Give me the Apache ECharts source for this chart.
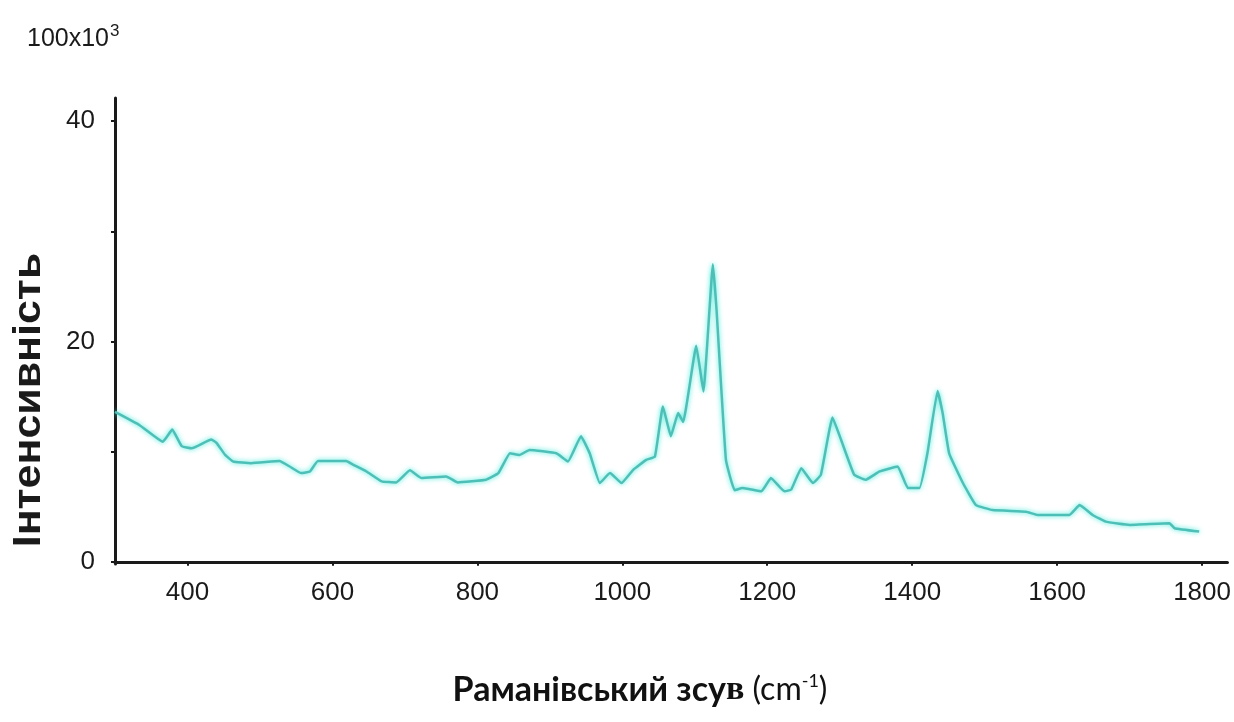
<!DOCTYPE html>
<html>
<head>
<meta charset="utf-8">
<script src="https://cdn.jsdelivr.net/npm/echarts@6/dist/echarts.min.js"></script>
<style>
  html, body { margin: 0; padding: 0; background: #ffffff; }
  #chart { width: 1234px; height: 722px; }
</style>
</head>
<body>
<div id="chart"></div>
<script>
// Raman shift, cm^-1
const ramanShift = [
  300, 334, 366, 379, 392, 406, 433, 440, 452, 463, 488, 527, 541, 557, 569, 580,
  619, 629, 647, 668, 688, 707, 723, 757, 773, 812, 829, 845, 858, 872, 909, 925,
  943, 955, 969, 983, 999, 1015, 1033, 1045, 1056, 1067, 1077, 1084, 1102, 1112,
  1125, 1130, 1143, 1155, 1166, 1192, 1205, 1217, 1224, 1233, 1247, 1263, 1274,
  1290, 1302, 1320, 1336, 1355, 1380, 1394, 1410, 1421, 1435, 1442, 1451, 1470,
  1488, 1511, 1557, 1573, 1617, 1631, 1649, 1667, 1700, 1755, 1762, 1796
];
// Intensity, units of 10^3 counts
const intensity = [
  13.6, 12.4, 10.9, 12.0, 10.5, 10.3, 11.1, 10.8, 9.7, 9.1, 8.95, 9.15, 8.65, 8.05, 8.2, 9.15,
  9.15, 8.8, 8.2, 7.3, 7.2, 8.3, 7.6, 7.75, 7.2, 7.45, 8.05, 9.85, 9.7, 10.15, 9.85, 9.1,
  11.4, 9.85, 7.15, 8.05, 7.15, 8.35, 9.25, 9.55, 14.1, 11.4, 13.5, 12.7, 19.6, 15.45,
  27.0, 22.9, 9.25, 6.5, 6.7, 6.4, 7.6, 6.8, 6.4, 6.55, 8.5, 7.15, 7.9,
  13.1, 11.05, 7.9, 7.45, 8.2, 8.65, 6.7, 6.7, 9.85, 15.5, 13.5, 9.85, 7.15,
  5.15, 4.7, 4.55, 4.25, 4.25, 5.15, 4.25, 3.65, 3.35, 3.5, 3.05, 2.75
];

const xTickValues = [400, 600, 800, 1000, 1200, 1400, 1600, 1800];
const yLabelValues = [0, 20, 40];
const yTickValues = [0, 10, 20, 30, 40];

const yTitle = 'Інтенсивність';
const xTitleMain = 'Раманівський зсу';
const xTitleLast = 'в';
const scaleNote = '100x10';

const labelFont = "'Liberation Sans', Arial, sans-serif";

const chart = echarts.init(document.getElementById('chart'), null, { renderer: 'canvas' });

chart.setOption({
  backgroundColor: '#ffffff',
  animation: false,
  grid: { left: 115, right: 6, top: 98, bottom: 158, containLabel: false },
  xAxis: {
    type: 'value',
    min: 300,
    max: 1835,
    splitLine: { show: false },
    axisLine: { lineStyle: { color: '#1a1a1a', width: 3 } },
    axisTick: { customValues: xTickValues, length: 4, lineStyle: { color: '#1a1a1a', width: 2 } },
    axisLabel: {
      customValues: xTickValues,
      formatter: v => String(v),
      margin: 16,
      color: '#1a1a1a',
      fontFamily: labelFont,
      fontSize: 26
    }
  },
  yAxis: {
    type: 'value',
    min: -0.2,
    max: 42.1,
    splitLine: { show: false },
    axisLine: { show: true, lineStyle: { color: '#1a1a1a', width: 3 } },
    axisTick: { show: true, customValues: yTickValues, length: 4, lineStyle: { color: '#1a1a1a', width: 2 } },
    axisLabel: {
      customValues: yLabelValues,
      formatter: v => String(v),
      margin: 20,
      color: '#1a1a1a',
      fontFamily: labelFont,
      fontSize: 26
    }
  },
  series: [{
    type: 'line',
    data: ramanShift.map((x, i) => [x, intensity[i]]),
    showSymbol: false,
    smooth: 0.1,
    lineStyle: {
      color: '#4dbfb6',
      width: 2.5,
      shadowColor: 'rgba(60, 232, 216, 1)',
      shadowBlur: 5
    }
  }],
  graphic: [
    {
      type: 'text',
      left: 27,
      top: 23,
      style: {
        text: '{b|' + scaleNote + '}{s|3}',
        rich: {
          b: { fontFamily: labelFont, fontSize: 25, fill: '#1a1a1a', verticalAlign: 'bottom' },
          s: { fontFamily: labelFont, fontSize: 17, fill: '#1a1a1a', verticalAlign: 'top', padding: [0, 0, 12, 1] }
        }
      }
    },
    {
      type: 'text',
      x: 30,
      y: 400,
      rotation: Math.PI / 2,
      scaleX: 1.13,
      style: {
        text: yTitle,
        fontFamily: labelFont,
        fontWeight: 'bold',
        fontSize: 38,
        fill: '#1a1a1a',
        align: 'center',
        verticalAlign: 'middle'
      }
    },
    {
      type: 'text',
      x: 640,
      y: 690,
      style: {
        text: '{m|' + xTitleMain + '}{v|' + xTitleLast + '}{r| (cm}{sup|-1}{r|)}',
        align: 'center',
        verticalAlign: 'middle',
        rich: {
          m: { fontFamily: "Lato, 'Open Sans', sans-serif", fontWeight: 'bold', fontSize: 34, fill: '#111111' },
          v: { fontFamily: "'Liberation Serif', 'DejaVu Serif', serif", fontWeight: 'bold', fontSize: 34, fill: '#111111' },
          r: { fontFamily: "Lato, 'Open Sans', sans-serif", fontSize: 32, fill: '#111111' },
          sup: { fontFamily: "Lato, 'Open Sans', sans-serif", fontSize: 18, fill: '#111111', padding: [0, 0, 18, 0] }
        }
      }
    }
  ]
});
</script>
</body>
</html>
